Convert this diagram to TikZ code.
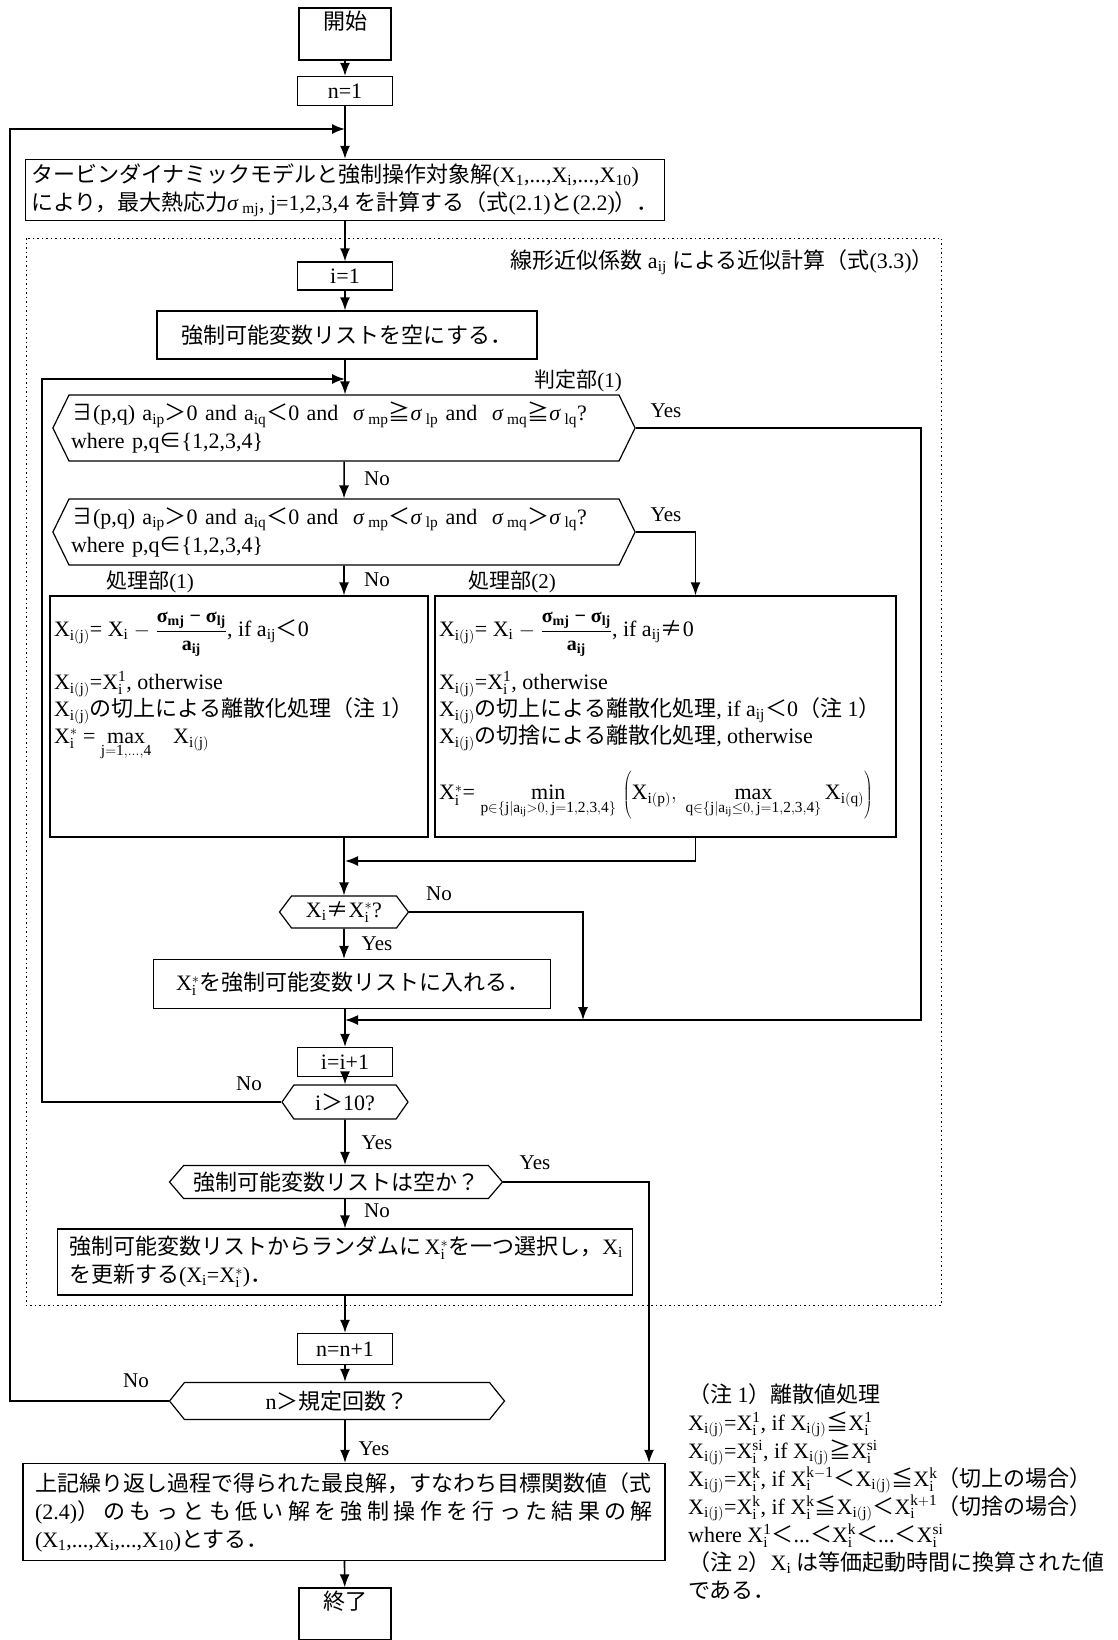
\documentclass[tikz,border=0pt]{standalone}
\usepackage{fontspec}
\setmainfont{Liberation Serif}
\newfontfamily\jpfont{Noto Sans CJK JP}
\usetikzlibrary{shapes.symbols,arrows.meta,positioning,calc}
\newcommand\jp[1]{{\jpfont #1}}
\newcommand\xs[1]{$\mathrm{X}_{\mathrm{#1}}$}
\newcommand\xv[2]{$\mathrm{X}_{\mathrm{#1}}^{\mathrm{#2}}$}
\newcommand\sg[1]{\textit{σ}\,\textsubscript{#1}}
\newcommand\frc{$\displaystyle\frac{\mbox{\fontsize{20}{20}\selectfont\bfseries σ\textsubscript{mj} − σ\textsubscript{lj}}}{\mbox{\fontsize{20}{20}\selectfont\bfseries a\textsubscript{ij}}}$}
\tikzset{
    % Sharp-cornered boxes
    procbox/.style={
        rectangle,
        draw,
        line width=1.2pt,
        inner sep=4pt,
        align=center
    },
    terminal/.style={
        procbox,
        minimum width=92pt,
        minimum height=52pt,
        text height=18pt,
        text depth=27pt,
        inner sep=3pt
    },
    counter/.style={
        procbox,
        minimum width=95pt,
        minimum height=29pt
    },
    decision/.style={
        shape=signal,
        signal to=west and east,
        draw,
        line width=1.2pt,
        inner sep=2pt,
        align=left
    },
    arrow/.style={
        ->,
        >={Latex[length=13pt,width=10pt]},
        line width=1.6pt
    },
    tag/.style={
        font=\fontsize{21}{24}\selectfont,
        inner sep=1pt
    },
    region/.style={
        line width=1pt,
        dash pattern=on 1.5pt off 3pt
    }
}
\begin{document}
\begin{tikzpicture}[x=1pt, y=-1pt, font=\fontsize{22}{28}\selectfont]
    \useasboundingbox (0,0) rectangle (1117,1640);

    % Start and outer loop
    \node[terminal] (start) at (345,34) {\jp{開始}};
    \node[counter] (n1) at (345,91) {n=1};
    \node[procbox, minimum width=639pt, minimum height=61pt, align=left] (calc) at (345,190)
        {\jp{タービンダイナミックモデルと強制操作対象解}(\xs{1},...,\xs{i},...,\xs{10})\\
         \jp{により，最大熱応力}\sg{mj}, j=1,2,3,4 \jp{を計算する（式}(2.1)\jp{と}(2.2)\jp{）．}};
    \coordinate (outer) at (10,129);
    \coordinate (loopA) at (345,129);

    % Approximation by linear coefficients
    \draw[region] (26,238) rectangle (941,1305);
    \node[anchor=east, inner sep=0pt] (regionlabel) at (934,262)
        {\jp{線形近似係数} a\textsubscript{ij} \jp{による近似計算（式}(3.3)\jp{）}};
    \node[counter, minimum height=28pt] (i1) at (345,276) {i=1};
    \node[procbox, minimum width=380pt, minimum height=48pt] (clear) at (347,335)
        {\jp{強制可能変数リストを空にする．}};
    \coordinate (inner) at (42,379);
    \coordinate (loopB) at (345,379);

    % Decisions
    \node[tag] (judge1) at (578,381) {\jp{判定部}(1)};
    \node[decision, minimum width=580pt, minimum height=66pt, signal pointer angle=128, text width=546pt] (dec1) at (344,428)
        {\jp{∃}(p,q) a\textsubscript{ip}\jp{＞}0 and a\textsubscript{iq}\jp{＜}0 and ~\sg{mp}\jp{≧}\sg{lp} and ~\sg{mq}\jp{≧}\sg{lq}?\\
         where p,q\jp{∈}\{1,2,3,4\}};
    \node[decision, minimum width=580pt, minimum height=66pt, signal pointer angle=128, text width=546pt] (dec2) at (344,532)
        {\jp{∃}(p,q) a\textsubscript{ip}\jp{＞}0 and a\textsubscript{iq}\jp{＜}0 and ~\sg{mp}\jp{＜}\sg{lp} and ~\sg{mq}\jp{＞}\sg{lq}?\\
         where p,q\jp{∈}\{1,2,3,4\}};

    % Processing parts
    \node[tag] (part1) at (150,582) {\jp{処理部}(1)};
    \node[tag] (part2) at (512,582) {\jp{処理部}(2)};
    \node[procbox, minimum width=378pt, minimum height=241pt, inner sep=3pt] (proc1) at (239,716.5)
        {\parbox[c][233pt][t]{370pt}{\raggedright\vspace*{12pt}
         \xs{i(j)}= \xs{i} $-$ \frc, if a\textsubscript{ij}\jp{＜}0\\[14pt]
         \xs{i(j)}=\xv{i}{1}, otherwise\\[-1pt]
         \xs{i(j)}\jp{の切上による離散化処理（注} 1\jp{）}\\[-1pt]
         \xv{i}{*} = $\mathop{\mathrm{max}}\limits_{\mathrm{j=1,\ldots,4}}$\quad\xs{i(j)}}};
    \node[procbox, minimum width=461pt, minimum height=241pt, inner sep=3pt] (proc2) at (665.5,716.5)
        {\parbox[c][233pt][t]{453pt}{\raggedright\vspace*{12pt}
         \xs{i(j)}= \xs{i} $-$ \frc, if a\textsubscript{ij}\jp{≠}0\\[14pt]
         \xs{i(j)}=\xv{i}{1}, otherwise\\[-1pt]
         \xs{i(j)}\jp{の切上による離散化処理}, if a\textsubscript{ij}\jp{＜}0\jp{（注} 1\jp{）}\\[-1pt]
         \xs{i(j)}\jp{の切捨による離散化処理}, otherwise\\[19pt]
         \xv{i}{*}= $\mathop{\mathrm{min}}\limits_{\mathrm{p}\in\{\mathrm{j}|\mathrm{a_{ij}}>0,\,\mathrm{j=1,2,3,4}\}}\,\left(\mathrm{X}_{\mathrm{i(p)}},\ \mathop{\mathrm{max}}\limits_{\mathrm{q}\in\{\mathrm{j}|\mathrm{a_{ij}}\le0,\,\mathrm{j=1,2,3,4}\}}\mathrm{X}_{\mathrm{i(q)}}\right)$}};
    \coordinate (merge1) at (345,861);

    % Forcing list
    \node[decision, minimum width=129pt, minimum height=32pt, signal pointer angle=106, align=center] (dec3) at (344,912)
        {\xs{i}\jp{≠}\xv{i}{*}?};
    \node[procbox, minimum width=397pt, minimum height=49pt, text width=352pt, align=left] (addlist) at (352,984)
        {\xv{i}{*}\jp{を強制可能変数リストに入れる．}};
    \coordinate (noDrop) at (583,1020);
    \coordinate (merge2) at (345,1020);
    \coordinate (yesR) at (921,1020);
    \node[counter] (ii1) at (345,1062) {i=i+1};
    \node[decision, minimum width=126pt, minimum height=34pt, signal pointer angle=110, align=center] (dec4) at (345,1102)
        {i\jp{＞}10?};
    \node[decision, minimum width=333pt, minimum height=33pt, signal pointer angle=99, align=center] (dec5) at (336,1182)
        {\jp{強制可能変数リストは空か？}};
    \node[procbox, minimum width=575pt, minimum height=66pt, text width=552pt, align=left] (select) at (345,1262)
        {\jp{強制可能変数リストからランダムに}\,\xv{i}{*}\jp{を一つ選択し，}\xs{i}\\
         \jp{を更新する}(\xs{i}=\xv{i}{*})\jp{．}};

    % Iteration count and result
    \node[counter, minimum height=31pt] (nn1) at (345,1349) {n=n+1};
    \node[decision, minimum width=335pt, minimum height=37pt, signal pointer angle=102, align=center] (dec6) at (337,1401)
        {n\jp{＞規定回数？}};
    \node[procbox, minimum width=642pt, minimum height=97pt] (final) at (344,1512)
        {\parbox{618pt}{\jp{上記繰り返し過程で得られた最良解，すなわち目標関数値（式}\\
         (2.4)\jp{）\hfill の\hfill も\hfill っ\hfill と\hfill も\hfill 低\hfill い\hfill 解\hfill を\hfill 強\hfill 制\hfill 操\hfill 作\hfill を\hfill 行\hfill っ\hfill た\hfill 結\hfill 果\hfill の\hfill 解}\\
         (\xs{1},...,\xs{i},...,\xs{10})\jp{とする．}}};
    \node[terminal] (end) at (345,1614) {\jp{終了}};

    % Notes
    \node[anchor=north west, align=left, inner sep=0pt] (notes) at (688,1383)
        {\jp{（注} 1\jp{）離散値処理}\\
         \xs{i(j)}=\xv{i}{1}, if \xs{i(j)}\jp{≦}\xv{i}{1}\\
         \xs{i(j)}=\xv{i}{si}, if \xs{i(j)}\jp{≧}\xv{i}{si}\\
         \xs{i(j)}=\xv{i}{k}, if \xv{i}{k-1}\jp{＜}\xs{i(j)}\jp{≦}\xv{i}{k}\jp{（切上の場合）}\\
         \xs{i(j)}=\xv{i}{k}, if \xv{i}{k}\jp{≦}\xs{i(j)}\jp{＜}\xv{i}{k+1}\jp{（切捨の場合）}\\
         where \xv{i}{1}\jp{＜}...\jp{＜}\xv{i}{k}\jp{＜}...\jp{＜}\xv{i}{si}\\
         \jp{（注} 2\jp{）}\xs{i} \jp{は等価起動時間に換算された値}\\
         \jp{である．}};

    % Labels
    \node[tag] (yes1) at (666,411) {Yes};
    \node[tag] (no1) at (377,479) {No};
    \node[tag] (yes2) at (666,515) {Yes};
    \node[tag] (no2) at (377,580) {No};
    \node[tag] (no3) at (439,894) {No};
    \node[tag] (yes3) at (377,944) {Yes};
    \node[tag] (no4) at (249,1084) {No};
    \node[tag] (yes4) at (377,1143) {Yes};
    \node[tag] (yes5) at (535,1163) {Yes};
    \node[tag] (no5) at (377,1211) {No};
    \node[tag] (no6) at (136,1381) {No};
    \node[tag] (yes6) at (374,1449) {Yes};

    % Arrows
    \draw[arrow] (start) -- (n1);
    \draw[arrow] (n1) -- (calc);
    \draw[arrow] (calc.south -| i1) -- (i1);
    \draw[arrow] (i1) -- (i1 |- clear.north);
    \draw[arrow] (clear.south -| loopB) -- (loopB |- dec1.north);
    \draw[arrow] (dec1) -- (dec2);
    \draw[arrow] (dec2) -- (dec2 |- proc1.north);
    \draw[arrow] (dec2.east) -| ([xshift=30pt]proc2.north);
    \draw[arrow] (dec1.east) -| (yesR) -- (merge2);
    \draw[arrow] (dec3 |- proc1.south) -- (dec3);
    \draw[arrow] ([xshift=30pt]proc2.south) |- (merge1);
    \draw[arrow] (dec3) -- (dec3 |- addlist.north);
    \draw[arrow] (dec3.east) -| (noDrop);
    \draw[arrow] (addlist.south -| ii1) -- (ii1);
    \draw[arrow] (ii1) -- (dec4);
    \draw[arrow] (dec4.west) -| (inner) -- (loopB);
    \draw[arrow] (dec4) -- (dec4 |- dec5.north);
    \draw[arrow] (dec4 |- dec5.south) -- (dec4 |- select.north);
    \draw[arrow] (dec5.east) -| ([xshift=305pt]final.north);
    \draw[arrow] (select.south -| nn1) -- (nn1);
    \draw[arrow] (nn1) -- (nn1 |- dec6.north);
    \draw[arrow] (nn1 |- dec6.south) -- (nn1 |- final.north);
    \draw[arrow] (dec6.west) -| (outer) -- (loopA);
    \draw[arrow] (final) -- (end);
\end{tikzpicture}
\end{document}
